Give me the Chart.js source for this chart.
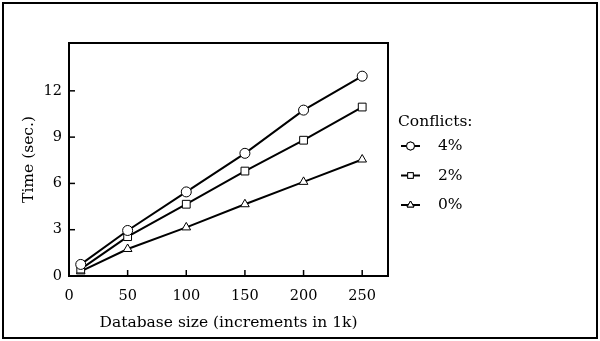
<!DOCTYPE html>
<html>
<head>
<meta charset="utf-8">
<script src="https://cdn.jsdelivr.net/npm/chart.js@4"></script>
<style>
  html, body { margin: 0; padding: 0; background: #fff; }
  #wrap { position: relative; width: 600px; height: 341px; }
  #frame { position: absolute; left: 2px; top: 2px; width: 592px; height: 333px; border: 2px solid #000; pointer-events: none; }
</style>
</head>
<body>
<div id="wrap">
  <canvas id="myChart" width="600" height="341"></canvas>
  <div id="frame"></div>
</div>
<script>
const sizes = [10, 50, 100, 150, 200, 250];
const labels = ["4%", "2%", "0%"];
const conflicts4 = [0.75, 2.95, 5.45, 7.95, 10.75, 12.95];
const conflicts2 = [0.45, 2.55, 4.65, 6.8, 8.8, 10.95];
const conflicts0 = [0.3, 1.75, 3.15, 4.65, 6.1, 7.55];
const xTicks = [0, 50, 100, 150, 200, 250];
const yTicks = [0, 3, 6, 9, 12];
const legendTitle = "Conflicts:";

const FONT = "'DejaVu Serif', serif";
const styles = ["circle", "rect", "triangle"];

function series(values) {
    return values.map((v, i) => ({ x: sizes[i], y: v }));
}

// box around plot area, inward ticks, and the legend on the right
const decorations = {
    id: "decorations",
    afterDatasetsDraw(chart) {
        const ctx = chart.ctx;
        const a = chart.chartArea;
        const xs = chart.scales.x;
        const ys = chart.scales.y;
        ctx.save();
        ctx.strokeStyle = "#000";
        ctx.lineWidth = 2;
        ctx.strokeRect(a.left, a.top, a.right - a.left, a.bottom - a.top);
        ctx.lineWidth = 1.5;
        xTicks.forEach(v => {
            const px = xs.getPixelForValue(v);
            ctx.beginPath();
            ctx.moveTo(px, a.bottom);
            ctx.lineTo(px, a.bottom - 6);
            ctx.stroke();
        });
        yTicks.forEach(v => {
            const py = ys.getPixelForValue(v);
            ctx.beginPath();
            ctx.moveTo(a.left, py);
            ctx.lineTo(a.left + 6, py);
            ctx.stroke();
        });

        // legend
        const lx = a.right + 10;
        ctx.fillStyle = "#000";
        ctx.font = "15.5px " + FONT;
        ctx.textBaseline = "middle";
        ctx.textAlign = "left";
        ctx.fillText(legendTitle, lx, 122);
        chart.data.datasets.forEach((ds, i) => {
            const cy = 146 + i * 29.5;
            ctx.strokeStyle = "#000";
            ctx.lineWidth = 2;
            ctx.beginPath();
            ctx.moveTo(lx + 3, cy);
            ctx.lineTo(lx + 22, cy);
            ctx.stroke();
            ctx.lineWidth = 1;
            ctx.fillStyle = "#fff";
            Chart.helpers.drawPoint(ctx, { pointStyle: ds.pointStyle, radius: 4, borderWidth: 1, rotation: 0 }, lx + 12.5, cy);
            ctx.fill();
            ctx.stroke();
            ctx.fillStyle = "#000";
            ctx.fillText(ds.label, lx + 40, cy);
        });
        ctx.restore();
    }
};

const ctx = document.getElementById("myChart").getContext("2d");
const myChart = new Chart(ctx, {
    type: "line",
    data: {
        datasets: [conflicts4, conflicts2, conflicts0].map((vals, i) => ({
            label: labels[i],
            data: series(vals),
            borderColor: "#000",
            borderWidth: 2,
            pointStyle: styles[i],
            pointRadius: i === 1 ? 5.5 : 5,
            pointBackgroundColor: "#fff",
            pointBorderColor: "#000",
            pointBorderWidth: 1,
            tension: 0,
        })),
    },
    options: {
        responsive: false,
        animation: false,
        events: [],
        layout: { padding: { left: 16, top: 43, right: 212, bottom: 5 } },
        plugins: {
            legend: { display: false },
            tooltip: { enabled: false },
        },
        scales: {
            x: {
                type: "linear",
                min: 0,
                max: 272,
                afterBuildTicks: s => { s.ticks = xTicks.map(v => ({ value: v })); },
                afterFit: s => { s.height = 60; },
                grid: { display: false, drawTicks: false },
                border: { display: false },
                ticks: { color: "#000", padding: 12, font: { family: FONT, size: 14.5 }, maxRotation: 0 },
                title: {
                    display: true,
                    text: "Database size (increments in 1k)",
                    color: "#000",
                    font: { family: FONT, size: 15.5 },
                    padding: { top: 4 },
                },
            },
            y: {
                min: 0,
                max: 15.1,
                afterBuildTicks: s => { s.ticks = yTicks.map(v => ({ value: v })); },
                afterFit: s => { s.width = 53; },
                grid: { display: false, drawTicks: false },
                border: { display: false },
                ticks: { color: "#000", padding: 7, font: { family: FONT, size: 14.5 } },
                title: {
                    display: true,
                    text: "Time (sec.)",
                    color: "#000",
                    font: { family: FONT, size: 15.5 },
                    padding: { bottom: 4 },
                },
            },
        },
    },
    plugins: [decorations],
});
</script>
</body>
</html>
